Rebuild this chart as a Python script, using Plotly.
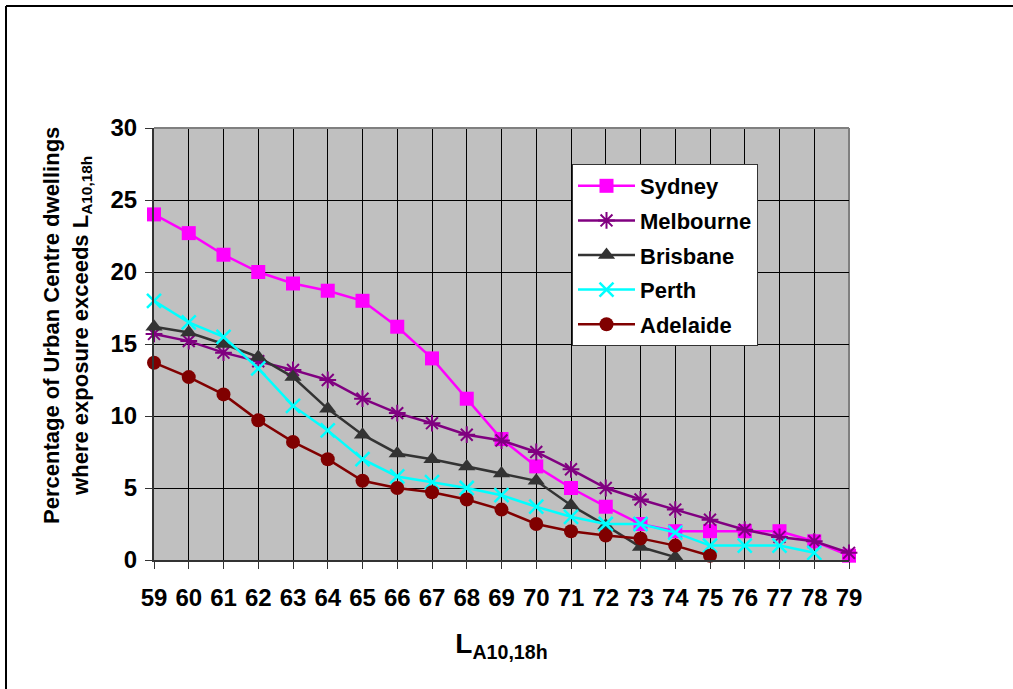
import plotly.graph_objects as go

levels = [59, 60, 61, 62, 63, 64, 65, 66, 67, 68, 69, 70, 71, 72, 73, 74, 75, 76, 77, 78, 79]
tick_labels = [str(v) for v in levels]

sydney = [24.0, 22.7, 21.2, 20.0, 19.2, 18.7, 18.0, 16.2, 14.0, 11.2, 8.4, 6.5, 5.0, 3.7, 2.5, 2.0, 2.0, 2.0, 2.0, 1.3, 0.3]
melbourne = [15.7, 15.2, 14.4, 13.8, 13.2, 12.5, 11.2, 10.2, 9.5, 8.7, 8.3, 7.5, 6.3, 5.0, 4.2, 3.5, 2.8, 2.1, 1.6, 1.3, 0.5]
brisbane = [16.2, 15.8, 15.0, 14.1, 12.7, 10.5, 8.7, 7.4, 7.0, 6.5, 6.0, 5.5, 3.8, 2.4, 0.9, 0.2]
perth = [18.0, 16.5, 15.5, 13.3, 10.7, 9.0, 7.0, 5.8, 5.4, 5.0, 4.5, 3.7, 3.0, 2.5, 2.5, 1.9, 1.0, 1.0, 1.0, 0.5]
adelaide = [13.7, 12.7, 11.5, 9.7, 8.2, 7.0, 5.5, 5.0, 4.7, 4.2, 3.5, 2.5, 2.0, 1.7, 1.5, 1.0, 0.3]

y_title = "Percentage of Urban Centre dwellings<br>where exposure exceeds L<sub>A10,18h</sub>"
x_title = "L<sub>A10,18h</sub>"

series = [
    ("Sydney", sydney, "#FF00FF", dict(symbol="square", size=14)),
    ("Melbourne", melbourne, "#800080", dict(symbol="asterisk-open", size=14, line=dict(width=2, color="#800080"))),
    ("Brisbane", brisbane, "#333333", dict(symbol="triangle-up", size=15)),
    ("Perth", perth, "#00FFFF", dict(symbol="x-thin-open", size=14, line=dict(width=2.5, color="#00FFFF"))),
    ("Adelaide", adelaide, "#800000", dict(symbol="circle", size=14)),
]

FONT = "Liberation Sans, Arial, sans-serif"

fig = go.Figure()
for name, vals, color, mk in series:
    fig.add_trace(go.Scatter(
        x=levels[:len(vals)], y=vals, name=name, mode="lines+markers",
        line=dict(color=color, width=2.5),
        marker=dict(color=color, **mk),
        cliponaxis=False, legendgroup=name,
    ))

W, H = 1013, 689
L, R, T, B = 154, 849, 128, 560
pw, ph = R - L, B - T

def px(x):
    return (x - L) / pw

def py(y):
    return (B - y) / ph

shapes = [
    # outer chart frame (left and top visible)
    dict(type="line", xref="paper", yref="paper", x0=px(6), x1=px(6), y0=py(6), y1=py(720),
         line=dict(color="black", width=2)),
    dict(type="line", xref="paper", yref="paper", x0=px(6), x1=px(1040), y0=py(6), y1=py(6),
         line=dict(color="black", width=2)),
    # plot area top/right border
    dict(type="line", xref="paper", yref="paper", x0=0, x1=1, y0=1, y1=1,
         line=dict(color="#808080", width=2), layer="above"),
    dict(type="line", xref="paper", yref="paper", x0=1, x1=1, y0=0, y1=1,
         line=dict(color="#808080", width=2), layer="below"),
]

annotations = [
    dict(text=y_title, xref="paper", yref="paper", x=px(67), y=py(326),
         xanchor="center", yanchor="middle", textangle=-90, showarrow=False, align="center",
         font=dict(family=FONT, size=22, color="black", weight="bold")),
]

fig.update_layout(
    width=W, height=H,
    margin=dict(l=L, r=W - R, t=T, b=H - B, autoexpand=False),
    paper_bgcolor="white", plot_bgcolor="#C0C0C0",
    font=dict(family=FONT, color="black"),
    showlegend=True,
    legend=dict(
        x=px(572), y=py(164), xanchor="left", yanchor="top",
        bgcolor="white", bordercolor="#333333", borderwidth=1,
        font=dict(family=FONT, size=22, color="black", weight="bold"),
        itemwidth=57, traceorder="grouped", tracegroupgap=3,
    ),
    shapes=shapes,
    annotations=annotations,
    xaxis=dict(
        range=[59, 79], tickmode="array", tickvals=levels, ticktext=tick_labels,
        showgrid=True, gridcolor="black", gridwidth=1,
        showline=True, linecolor="#333333", linewidth=2,
        ticks="outside", ticklen=7, tickcolor="#333333", tickwidth=1,
        tickfont=dict(family=FONT, size=24, color="black", weight="bold"),
        ticklabelstandoff=8,
        zeroline=False,
        title=dict(text=x_title, font=dict(family=FONT, size=28, color="black", weight="bold"),
                   standoff=24),
    ),
    yaxis=dict(
        range=[0, 30], tickmode="array", tickvals=[0, 5, 10, 15, 20, 25, 30],
        showgrid=True, gridcolor="black", gridwidth=1,
        showline=True, linecolor="#333333", linewidth=2,
        ticks="outside", ticklen=7, tickcolor="#333333", tickwidth=1,
        tickfont=dict(family=FONT, size=24, color="black", weight="bold"),
        ticklabelstandoff=3,
        zeroline=False,
    ),
)

fig.write_html("out.html", config={"displayModeBar": False},
               post_script="document.body.style.margin='0';")
